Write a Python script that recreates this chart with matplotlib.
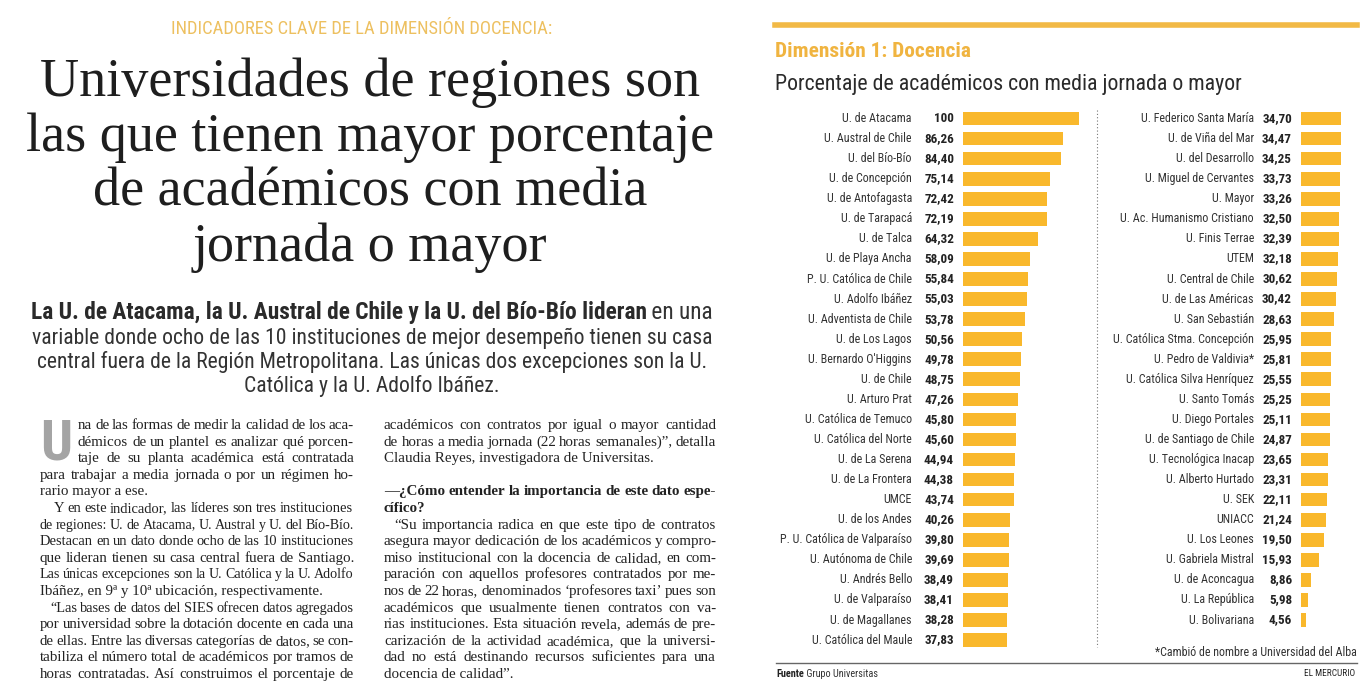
import matplotlib
matplotlib.use('Agg')
import matplotlib.pyplot as plt
import numpy as np
from matplotlib import font_manager, transforms
from matplotlib.lines import Line2D

W, H = 1369, 694

# ---- chart data: Dimensión 1, Docencia ----
left_names = ['U. de Atacama', 'U. Austral de Chile', 'U. del Bío-Bío', 'U. de Concepción',
              'U. de Antofagasta', 'U. de Tarapacá', 'U. de Talca', 'U. de Playa Ancha',
              'P. U. Católica de Chile', 'U. Adolfo Ibáñez', 'U. Adventista de Chile',
              'U. de Los Lagos', "U. Bernardo O'Higgins", 'U. de Chile', 'U. Arturo Prat',
              'U. Católica de Temuco', 'U. Católica del Norte', 'U. de La Serena',
              'U. de La Frontera', 'UMCE', 'U. de los Andes', 'P. U. Católica de Valparaíso',
              'U. Autónoma de Chile', 'U. Andrés Bello', 'U. de Valparaíso',
              'U. de Magallanes', 'U. Católica del Maule']
left_values = [100, 86.26, 84.40, 75.14, 72.42, 72.19, 64.32, 58.09, 55.84, 55.03, 53.78,
               50.56, 49.78, 48.75, 47.26, 45.80, 45.60, 44.94, 44.38, 43.74, 40.26, 39.80,
               39.69, 38.49, 38.41, 38.28, 37.83]

right_names = ['U. Federico Santa María', 'U. de Viña del Mar', 'U. del Desarrollo',
               'U. Miguel de Cervantes', 'U. Mayor', 'U. Ac. Humanismo Cristiano',
               'U. Finis Terrae', 'UTEM', 'U. Central de Chile', 'U. de Las Américas',
               'U. San Sebastián', 'U. Católica Stma. Concepción', 'U. Pedro de Valdivia*',
               'U. Católica Silva Henríquez', 'U. Santo Tomás', 'U. Diego Portales',
               'U. de Santiago de Chile', 'U. Tecnológica Inacap', 'U. Alberto Hurtado',
               'U. SEK', 'UNIACC', 'U. Los Leones', 'U. Gabriela Mistral', 'U. de Aconcagua',
               'U. La República', 'U. Bolivariana']
right_values = [34.70, 34.47, 34.25, 33.73, 33.26, 32.50, 32.39, 32.18, 30.62, 30.42, 28.63,
                25.95, 25.81, 25.55, 25.25, 25.11, 24.87, 23.65, 23.31, 22.11, 21.24, 19.50,
                15.93, 8.86, 5.98, 4.56]

# ---- article text ----
header = 'INDICADORES CLAVE DE LA DIMENSIÓN DOCENCIA:'
title_lines = ['Universidades de regiones son', 'las que tienen mayor porcentaje',
               'de académicos con media', 'jornada o mayor']
lede_bold = 'La U. de Atacama, la U. Austral de Chile y la U. del Bío-Bío lideran'
lede_rest = ' en una'
lede_lines = ['variable donde ocho de las 10 instituciones de mejor desempeño tienen su casa',
              'central fuera de la Región Metropolitana. Las únicas dos excepciones son la U.',
              'Católica y la U. Adolfo Ibáñez.']

# (text, left x, justified, bold)
col1 = [('na de las formas de medir la calidad de los aca-', 78, True, False),
        ('démicos de un plantel es analizar qué porcen-', 78, True, False),
        ('taje de su planta académica está contratada', 78, True, False),
        ('para trabajar a media jornada o por un régimen ho-', 40, True, False),
        ('rario mayor a ese.', 40, False, False),
        ('Y en este indicador, las líderes son tres instituciones', 54, True, False),
        ('de regiones: U. de Atacama, U. Austral y U. del Bío-Bío.', 40, True, False),
        ('Destacan en un dato donde ocho de las 10 instituciones', 40, True, False),
        ('que lideran tienen su casa central fuera de Santiago.', 40, True, False),
        ('Las únicas excepciones son la U. Católica y la U. Adolfo', 40, True, False),
        ('Ibáñez, en 9ª y 10ª ubicación, respectivamente.', 40, False, False),
        ('“Las bases de datos del SIES ofrecen datos agregados', 50, True, False),
        ('por universidad sobre la dotación docente en cada una', 40, True, False),
        ('de ellas. Entre las diversas categorías de datos, se con-', 40, True, False),
        ('tabiliza el número total de académicos por tramos de', 40, True, False),
        ('horas contratadas. Así construimos el porcentaje de', 40, True, False)]
col2 = [('académicos con contratos por igual o mayor cantidad', 384, True, False),
        ('de horas a media jornada (22 horas semanales)”, detalla', 384, True, False),
        ('Claudia Reyes, investigadora de Universitas.', 384, False, False),
        ('', 384, False, False),
        ('—¿Cómo entender la importancia de este dato espe-', 384, True, True),
        ('cífico?', 384, False, True),
        ('“Su importancia radica en que este tipo de contratos', 394, True, False),
        ('asegura mayor dedicación de los académicos y compro-', 384, True, False),
        ('miso institucional con la docencia de calidad, en com-', 384, True, False),
        ('paración con aquellos profesores contratados por me-', 384, True, False),
        ('nos de 22 horas, denominados ‘profesores taxi’ pues son', 384, True, False),
        ('académicos que usualmente tienen contratos con va-', 384, True, False),
        ('rias instituciones. Esta situación revela, además de pre-', 384, True, False),
        ('carización de la actividad académica, que la universi-', 384, True, False),
        ('dad no está destinando recursos suficientes para una', 384, True, False),
        ('docencia de calidad”.', 384, False, False)]

# ---- fonts ----
avail = {f.name for f in font_manager.fontManager.ttflist}


def pick(*names):
    for n in names:
        if n in avail:
            return n
    return 'DejaVu Sans'


SANS = pick('Roboto Condensed', 'Liberation Sans Narrow', 'Open Sans Condensed', 'Roboto',
            'Liberation Sans')
SERIF = pick('Liberation Serif', 'DejaVu Serif')

GOLD = '#EDC060'
BAR = '#F9B82C'
INK = '#2a2a2a'


def px(x):
    return x / W


def py(y):
    return 1 - y / H


fig = plt.figure(figsize=(W / 100, H / 100), dpi=100, facecolor='white')
renderer = fig.canvas.get_renderer()


def width_of(s, **kw):
    t = fig.text(0, 0, s, **kw)
    w = t.get_window_extent(renderer).width
    t.remove()
    return w


def fit_size(s, target, **kw):
    return 20 * target / width_of(s, fontsize=20, **kw)


# ---- headline block ----
fig.text(px(362), py(34), header, ha='center', va='baseline', color=GOLD, family=SANS,
         fontsize=fit_size(header, 381, family=SANS))

ts = fit_size(title_lines[1], 689, family=SERIF)
for line, base in zip(title_lines, [96, 151, 206, 261]):
    fig.text(px(370), py(base), line, ha='center', va='baseline', family=SERIF,
             fontsize=ts, color='#1e1e1e')

ls = fit_size(lede_lines[0], 681, family=SANS)
# first lede line: bold lead-in plus regular tail, spread to the column width
wb = width_of(lede_bold, family=SANS, fontsize=20, weight='bold')
wr = width_of(lede_rest, family=SANS, fontsize=20)
ls1 = min(20 * 684 / (wb + wr), ls * 1.08)
wb, wr = wb * ls1 / 20, wr * ls1 / 20
x0 = 372 - (wb + wr) / 2
fig.text(px(x0), py(319), lede_bold, ha='left', va='baseline', family=SANS, fontsize=ls1,
         weight='bold', color=INK)
fig.text(px(x0 + wb), py(319), lede_rest, ha='left', va='baseline', family=SANS,
         fontsize=ls1, color='#333333')
for line, base in zip(lede_lines, [344, 368, 392]):
    fig.text(px(372), py(base), line, ha='center', va='baseline', family=SANS,
             fontsize=ls, color='#333333')

# ---- body columns ----
cols = [(col1, 354), (col2, 716)]
ratios = []
for col, right in cols:
    for text, left, just, bold in col:
        if just:
            ratios.append((right - left) / width_of(text, family=SERIF, fontsize=20,
                                                    weight='bold' if bold else 'normal'))
bs = 20 * float(np.median(ratios))


def body_line(text, left, right, base, just, bold):
    kw = dict(family=SERIF, fontsize=bs, color='#222222', va='baseline',
              weight='bold' if bold else 'normal')
    words = text.split()
    if not just or len(words) < 2:
        fig.text(px(left), py(base), text, **kw)
        return
    widths = [width_of(w, **kw) for w in words]
    min_gap = 0.18 * bs * 100 / 72
    room = right - left - (len(words) - 1) * min_gap
    if sum(widths) > room:
        # squeeze a tight line slightly instead of letting words collide
        k = room / sum(widths)
        kw['fontsize'] = bs * k
        widths = [w * k for w in widths]
    gap = (right - left - sum(widths)) / (len(words) - 1)
    x = left
    for w, wd in zip(words, widths):
        fig.text(px(x), py(base), w, **kw)
        x += wd + gap


for col, right in cols:
    for i, (text, left, just, bold) in enumerate(col):
        if text:
            body_line(text, left, right, 429 + i * 16.6, just, bold)

fig.text(px(40), py(459), 'U', family=SANS, weight='bold', color='#a4a4a4', va='baseline',
         fontsize=fit_size('U', 32, family=SANS, weight='bold'))

# ---- chart ----
fig.add_artist(Line2D([px(775), px(1357)], [py(25), py(25)], lw=4, color='#F2B945'))
fig.text(px(775), py(57), 'Dimensión 1: Docencia', family=SANS, weight='bold', color='#F0B440',
         va='baseline', fontsize=fit_size('Dimensión 1: Docencia', 195, family=SANS,
                                          weight='bold'))
sub = 'Porcentaje de académicos con media jornada o mayor'
fig.text(px(775), py(90), sub, family=SANS, color=INK, va='baseline',
         fontsize=fit_size(sub, 467, family=SANS))

name_fs = fit_size('U. Católica Stma. Concepción', 141, family=SANS)
val_fs = fit_size('86,26', 30, family=SANS, weight='bold')
step = 20.06
top = 108.5


def fmt(v):
    return '100' if v == 100 else f'{v:.2f}'.replace('.', ',')


def draw_column(names, values, bar_x, name_off, val_off):
    n = len(names)
    ax = fig.add_axes([px(bar_x), py(top + n * step), 116 / W, n * step / H])
    ax.barh(range(n), values, height=0.68, color=BAR)
    ax.set_xlim(0, 100)
    ax.set_ylim(n - 0.5, -0.5)
    ax.axis('off')
    tr_name = transforms.offset_copy(ax.get_yaxis_transform(), fig=fig, x=name_off,
                                     units='dots')
    tr_val = transforms.offset_copy(ax.get_yaxis_transform(), fig=fig, x=val_off,
                                    units='dots')
    for i, (nm, v) in enumerate(zip(names, values)):
        ax.text(0, i, nm, transform=tr_name, ha='right', va='center', family=SANS,
                fontsize=name_fs, color='#333333')
        ax.text(0, i, fmt(v), transform=tr_val, ha='right', va='center', family=SANS,
                fontsize=val_fs, weight='bold', color='#222222')


draw_column(left_names, left_values, 963, -51, -9)
draw_column(right_names, right_values, 1301, -47, -9)

fig.add_artist(Line2D([px(1097), px(1097)], [py(110), py(647)], lw=0.8, color='#777777',
                      linestyle=(0, (1, 2))))
fig.text(px(1357), py(653), '*Cambió de nombre a Universidad del Alba', ha='right',
         va='center', family=SANS, fontsize=name_fs, color='#333333')
fig.add_artist(Line2D([px(776), px(1357)], [py(663), py(663)], lw=1, color='#666666'))
small = name_fs * 0.85
wf = width_of('Fuente', family=SANS, fontsize=small, weight='bold')
fig.text(px(776), py(674), 'Fuente', family=SANS, fontsize=small, weight='bold',
         va='center', color='#222222')
fig.text(px(776 + wf), py(674), ' Grupo Universitas', family=SANS, fontsize=small,
         va='center', color='#333333')
fig.text(px(1355), py(674), 'EL MERCURIO', ha='right', va='center', family=SANS,
         fontsize=small * 0.9, color='#222222')

fig.savefig('out.png', dpi=100, facecolor='white')
